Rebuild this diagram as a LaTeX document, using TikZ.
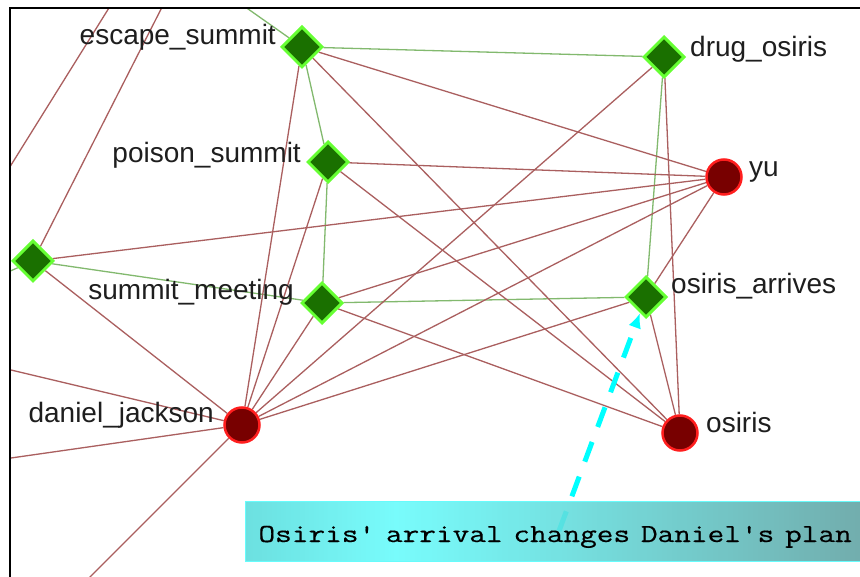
\documentclass[tikz,border=0pt]{standalone}
\usepackage{fontspec}
\usepackage{graphicx}
\setmainfont{Liberation Sans}
\newfontfamily\notefont[FakeBold=0.4]{Latin Modern Mono}
\usetikzlibrary{shapes.geometric,arrows.meta}
\pgfdeclarelayer{bg}
\pgfdeclarelayer{edges}
\pgfsetlayers{bg,edges,main}
\definecolor{redge}{RGB}{170,95,95}
\definecolor{gedge}{RGB}{130,185,110}
\definecolor{dfill}{RGB}{26,112,0}
\definecolor{dline}{RGB}{102,255,51}
\definecolor{cfill}{RGB}{120,0,0}
\definecolor{cline}{RGB}{255,30,30}
\definecolor{labtxt}{RGB}{30,30,30}
\definecolor{arrowc}{RGB}{0,255,255}
\definecolor{sA}{RGB}{88,220,220}
\definecolor{sB}{RGB}{102,252,252}
\definecolor{sC}{RGB}{98,222,222}
\definecolor{sD}{RGB}{96,192,192}
\definecolor{sE}{RGB}{95,160,160}
\pgfdeclarehorizontalshading{notebg}{100bp}{color(0bp)=(sA); color(25bp)=(sA); color(37bp)=(sB); color(50bp)=(sC); color(62bp)=(sD); color(75bp)=(sE); color(100bp)=(sE)}
\begin{document}
\begin{tikzpicture}[x=1pt,y=-1pt,
  dmd/.style={diamond, aspect=1, minimum size=41pt, inner sep=0pt, fill=dfill, draw=dline, line width=3pt},
  actor/.style={circle, minimum size=35pt, inner sep=0pt, fill=cfill, draw=cline, line width=2.5pt},
  lab/.style={text=labtxt, font=\fontsize{28}{30}\selectfont, inner sep=0pt},
  redline/.style={draw=redge, line width=1.3pt},
  greenline/.style={draw=gedge, line width=1.3pt},
  notebox/.style={shading=notebg, draw=sB, line width=1pt, fill opacity=0.88, text opacity=1,
    minimum height=60pt, text width=601pt, inner xsep=13pt, inner ysep=0pt, align=left,
    text height=22pt, text depth=0pt,
    font=\notefont\fontsize{26}{28}\selectfont, text=black},
  callout/.style={draw=arrowc, line width=5pt, dash pattern=on 21pt off 16pt,
    -{Latex[length=15pt,width=13pt]}}]
\useasboundingbox (0,0) rectangle (860,577);
\begin{pgfonlayer}{bg}
\fill[white] (0,0) rectangle (860,577);
\end{pgfonlayer}

% nodes
\node[dmd] (esc) at (302,47) {};
\node[dmd] (drug) at (664,57) {};
\node[dmd] (poi) at (328,162) {};
\node[actor] (yu) at (724,177) {};
\node[dmd] (ld) at (33,261) {};
\node[dmd] (sm) at (322,303) {};
\node[dmd] (oa) at (646,297) {};
\node[actor] (dj) at (242,425) {};
\node[actor] (os) at (680,433) {};

% labels
\node[lab, anchor=base east] (escL) at (276,45) {escape\_summit};
\node[lab, anchor=base west] (drugL) at (690,57) {drug\_osiris};
\node[lab, anchor=base east] (poiL) at (301,163) {poison\_summit};
\node[lab, anchor=base west] (yuL) at (749,177) {yu};
\node[lab, anchor=base east] (smL) at (294,300) {summit\_meeting};
\node[lab, anchor=base west] (oaL) at (671,294) {osiris\_arrives};
\node[lab, anchor=base east] (djL) at (214,423) {daniel\_jackson};
\node[lab, anchor=base west] (osL) at (706,432) {osiris};

% free ends outside the frame
\coordinate (escOff) at (190,-32);
\coordinate (ldOff) at (186,-40);
\coordinate (ldLeft) at (-10,280);
\coordinate (strayA) at (127,-21);
\coordinate (strayB) at (-7,194);
\coordinate (djOff1) at (-10,365);
\coordinate (djOff2) at (-10,461);
\coordinate (djOff3) at (70,597);

% annotation
\node[notebox, anchor=west] (note) at (245,531) {\scalebox{1.245}[1]{Osiris' arrival changes Daniel's plan}};

\begin{pgfonlayer}{edges}
\begin{scope}
\clip (11,9) rectangle (860,577);
% green edges
\draw[greenline] (esc) -- (drug);
\draw[greenline] (esc) -- (poi);
\draw[greenline] (esc) -- (escOff);
\draw[greenline] (poi) -- (sm);
\draw[greenline] (sm) -- (oa);
\draw[greenline] (drug) -- (oa);
\draw[greenline] (ld) -- (sm);
\draw[greenline] (ld) -- (ldLeft);
% red edges
\draw[redline] (esc) -- (yu);
\draw[redline] (esc) -- (os);
\draw[redline] (esc) -- (dj);
\draw[redline] (poi) -- (yu);
\draw[redline] (poi) -- (os);
\draw[redline] (poi) -- (dj);
\draw[redline] (drug) -- (dj);
\draw[redline] (drug) -- (os);
\draw[redline] (yu) -- (ld);
\draw[redline] (yu) -- (sm);
\draw[redline] (yu) -- (dj);
\draw[redline] (yu) -- (oa);
\draw[redline] (sm) -- (os);
\draw[redline] (sm) -- (dj);
\draw[redline] (oa) -- (os);
\draw[redline] (oa) -- (dj);
\draw[redline] (ld) -- (dj);
\draw[redline] (ld) -- (ldOff);
\draw[redline] (dj) -- (djOff1);
\draw[redline] (dj) -- (djOff2);
\draw[redline] (dj) -- (djOff3);
\draw[redline] (strayA) -- (strayB);
% callout arrow
\draw[callout] (note.center) -- (oa);
\end{scope}
\end{pgfonlayer}

% frame
\draw[black, line width=2pt] (10,577) -- (10,8) -- (860,8);
\end{tikzpicture}
\end{document}
